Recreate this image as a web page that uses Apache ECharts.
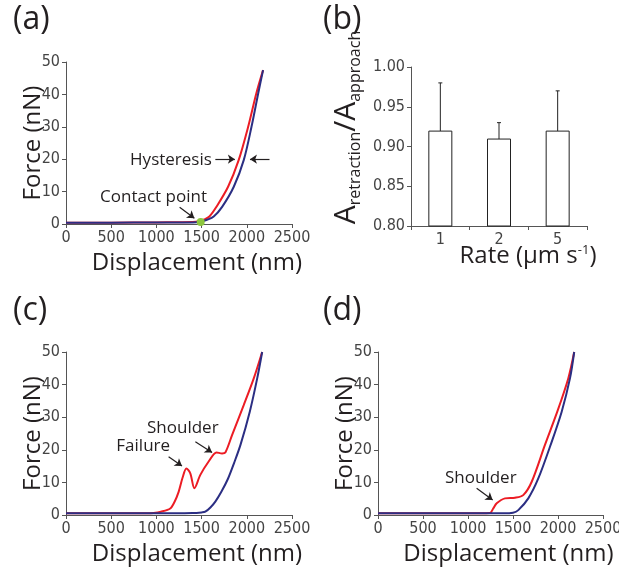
<!DOCTYPE html>
<html>
<head>
<meta charset="utf-8">
<script src="https://cdn.jsdelivr.net/npm/echarts@6/dist/echarts.min.js"></script>
<style>
  html, body { margin: 0; padding: 0; background: #fff; }
  #chart { width: 619px; height: 572px; }
</style>
</head>
<body>
<div id="chart"></div>
<script>
// (a) approach / retraction curves, [displacement nm, force nN]
const approachA = [[0,0.4],[500,0.4],[1000,0.5],[1400,0.5],[1500,0.8],[1560,1.3],[1634,2.3],[1727,5.3],[1856,11.5],[1967,19.8],[2052,30],[2126,40.3],[2180,47.5]];
const retractA = [[0,0.4],[500,0.4],[1000,0.5],[1400,0.6],[1480,0.9],[1530,1.4],[1586,2.3],[1664,5.3],[1793,11.5],[1911,19.8],[2015,30],[2105,40.3],[2180,47.5]];
const contactPoint = [1490, 0.6];

// (b) area ratio vs rate
const rates = ['1', '2', '5'];
const ratio = [0.92, 0.91, 0.92];
const errLow = [0.86, 0.89, 0.87];
const errHigh = [0.98, 0.93, 0.97];

// (c) failure + shoulder
const approachC = [[0,0.5],[500,0.5],[1000,0.5],[1400,0.6],[1500,0.8],[1541,1],[1600,2.4],[1652,4.1],[1720,7.2],[1793,11.2],[1860,16],[1930,21.5],[2033,31.7],[2115,41.9],[2170,50]];
const retractC = [[0,0.5],[500,0.5],[900,0.5],[969,0.6],[1050,1],[1153,2],[1200,4],[1246,7.1],[1290,11.5],[1331,14.3],[1375,12.8],[1420,8.2],[1486,12.3],[1578,16.4],[1664,19.2],[1726,18.9],[1763,19.2],[1837,24.5],[1966,33.7],[2077,41.9],[2170,50]];

// (d) shoulder only
const approachD = [[0,0.5],[500,0.5],[1000,0.5],[1400,0.5],[1500,0.7],[1559,1.5],[1670,5.1],[1781,11.2],[1918,21.5],[2041,31.7],[2133,41.9],[2180,50]];
const retractD = [[0,0.5],[500,0.5],[1000,0.5],[1244,0.6],[1280,2],[1319,3.6],[1411,5.1],[1522,5.3],[1614,6.1],[1708,10.2],[1855,21.5],[1992,31.7],[2114,41.9],[2180,50]];

const RED = '#ec1c24';
const NAVY = '#2b2e83';
const INK = '#231f20';
const AXIS = '#555';
const tickFont = "'Liberation Sans Narrow', 'DejaVu Sans Condensed', sans-serif";
const titleFont = "'Open Sans', sans-serif";

let chart = echarts.init(document.getElementById('chart'), null, { renderer: 'canvas' });

function axisCommon() {
  return {
    axisLine: { show: true, onZero: false, lineStyle: { color: AXIS, width: 1 } },
    axisTick: { show: true, length: 4, lineStyle: { color: AXIS } },
    axisLabel: { fontFamily: tickFont, fontSize: 16, color: '#444', margin: 6, formatter: v => String(v) },
    splitLine: { show: false },
    nameLocation: 'middle',
    nameMoveOverlap: false,
  };
}

function forceAxes(gridIndex) {
  let x = Object.assign(axisCommon(), {
    type: 'value', gridIndex: gridIndex, min: 0, max: 2500, interval: 500,
    name: 'Displacement (nm)', nameGap: 27,
    nameTextStyle: { fontFamily: titleFont, fontSize: 24, color: INK, padding: [0, 0, 0, 36] },
  });
  let y = Object.assign(axisCommon(), {
    type: 'value', gridIndex: gridIndex, min: 0, max: 50, interval: 10,
    name: 'Force (nN)', nameGap: 21,
    nameTextStyle: { fontFamily: titleFont, fontSize: 24, color: INK },
  });
  return [x, y];
}

function note(text, coord) {
  return {
    coord: coord, symbol: 'circle', symbolSize: 1,
    itemStyle: { color: 'transparent' },
    label: { show: true, position: 'inside', formatter: text, color: INK, fontFamily: titleFont, fontSize: 17 },
  };
}

function arrows(list) {
  return {
    silent: true,
    symbol: ['none', 'arrow'],
    symbolSize: 7,
    label: { show: false },
    lineStyle: { color: INK, width: 1.2, type: 'solid' },
    emphasis: { disabled: true },
    data: list.map(a => [{ coord: a[0] }, { coord: a[1] }]),
  };
}

function curve(data, color, idx, extra) {
  return Object.assign({
    type: 'line', xAxisIndex: idx, yAxisIndex: idx, data: data,
    smooth: 0.3, showSymbol: false, symbol: 'none',
    lineStyle: { color: color, width: 2 }, itemStyle: { color: color },
    silent: true,
  }, extra || {});
}

function panelLabel(text, left, top) {
  return { type: 'text', left: left, top: top, style: { text: text, font: "32px 'Open Sans', sans-serif", fill: INK } };
}

const axA = forceAxes(0), axC = forceAxes(2), axD = forceAxes(3);

const xB = Object.assign(axisCommon(), {
  type: 'category', gridIndex: 1, data: rates,
  axisTick: { show: true, length: 4, alignWithLabel: false, lineStyle: { color: AXIS } },
  name: '{m|Rate (µm s}{p|-1}{m|)}', nameGap: 18,
  nameTextStyle: {
    padding: [0, 0, 0, 58],
    rich: {
      m: { fontFamily: titleFont, fontSize: 24, color: INK, lineHeight: 24, verticalAlign: 'top' },
      p: { fontFamily: titleFont, fontSize: 13, color: INK, lineHeight: 13, verticalAlign: 'top' },
    },
  },
});
const yB = Object.assign(axisCommon(), {
  type: 'value', gridIndex: 1, min: 0.8, max: 1.0, interval: 0.05,
  axisLabel: { fontFamily: tickFont, fontSize: 16, color: '#444', margin: 6, formatter: v => v.toFixed(2) },
  name: '{a|A}{s|retraction}{a|/A}{s|approach}', nameGap: 50,
  nameTextStyle: {
    padding: [0, 0, 0, 38],
    rich: {
      a: { fontFamily: titleFont, fontSize: 30, color: INK, lineHeight: 30, verticalAlign: 'top' },
      s: { fontFamily: titleFont, fontSize: 16, color: INK, lineHeight: 16, padding: [16, 0, 0, 0], verticalAlign: 'top' },
    },
  },
});

let option = {
  animation: false,
  backgroundColor: '#fff',
  grid: [
    { left: 66, top: 62, width: 226, height: 162, outerBoundsMode: 'none' },
    { left: 411, top: 67, width: 176, height: 159, outerBoundsMode: 'none' },
    { left: 66, top: 352, width: 226, height: 163, outerBoundsMode: 'none' },
    { left: 378, top: 352, width: 225, height: 163, outerBoundsMode: 'none' },
  ],
  xAxis: [axA[0], xB, axC[0], axD[0]],
  yAxis: [axA[1], yB, axC[1], axD[1]],
  graphic: [
    panelLabel('(a)', 13, 4),
    panelLabel('(b)', 323, 4),
    panelLabel('(c)', 13, 295),
    panelLabel('(d)', 323, 295),
  ],
  series: [
    curve(retractA, RED, 0),
    curve(approachA, NAVY, 0, {
      markLine: arrows([
        [[1652, 20], [1868, 20]],
        [[2251, 20], [2035, 20]],
        [[1257, 5.2], [1420, 1.8]],
      ]),
      markPoint: {
        silent: true,
        data: [
          note('Hysteresis', [1161, 19.6]),
          note('Contact point', [968, 8.4]),
          { coord: contactPoint, symbol: 'circle', symbolSize: 8, itemStyle: { color: '#8dc63f' }, label: { show: false } },
        ],
      },
    }),
    {
      type: 'bar', xAxisIndex: 1, yAxisIndex: 1, data: ratio, barWidth: 24,
      startValue: 0.8, silent: true,
      itemStyle: { color: '#fff', borderColor: '#222', borderWidth: 1 },
    },
    {
      type: 'custom', xAxisIndex: 1, yAxisIndex: 1, silent: true,
      data: rates.map((r, i) => [i, errLow[i], errHigh[i]]),
      encode: { x: 0, y: [1, 2] },
      renderItem: function (params, api) {
        let top = api.coord([api.value(0), api.value(2)]);
        let bot = api.coord([api.value(0), api.value(1)]);
        let st = { stroke: '#222', lineWidth: 1 };
        return {
          type: 'group',
          children: [
            { type: 'line', shape: { x1: top[0], y1: top[1], x2: bot[0], y2: bot[1] }, style: st },
            { type: 'line', shape: { x1: top[0] - 2, y1: top[1], x2: top[0] + 2, y2: top[1] }, style: st },
            { type: 'line', shape: { x1: bot[0] - 2, y1: bot[1], x2: bot[0] + 2, y2: bot[1] }, style: st },
          ],
        };
      },
    },
    curve(retractC, RED, 2, {
      markLine: arrows([
        [[1135, 17.9], [1283, 15]],
        [[1431, 22.5], [1616, 19.2]],
      ]),
      markPoint: {
        silent: true,
        data: [note('Failure', [854, 21]), note('Shoulder', [1292, 26.6])],
      },
    }),
    curve(approachC, NAVY, 2),
    curve(retractD, RED, 3, {
      markLine: arrows([[[1096, 8.2], [1274, 4.6]]]),
      markPoint: { silent: true, data: [note('Shoulder', [1142, 11.3])] },
    }),
    curve(approachD, NAVY, 3),
  ],
};

chart.setOption(option);
</script>
</body>
</html>
